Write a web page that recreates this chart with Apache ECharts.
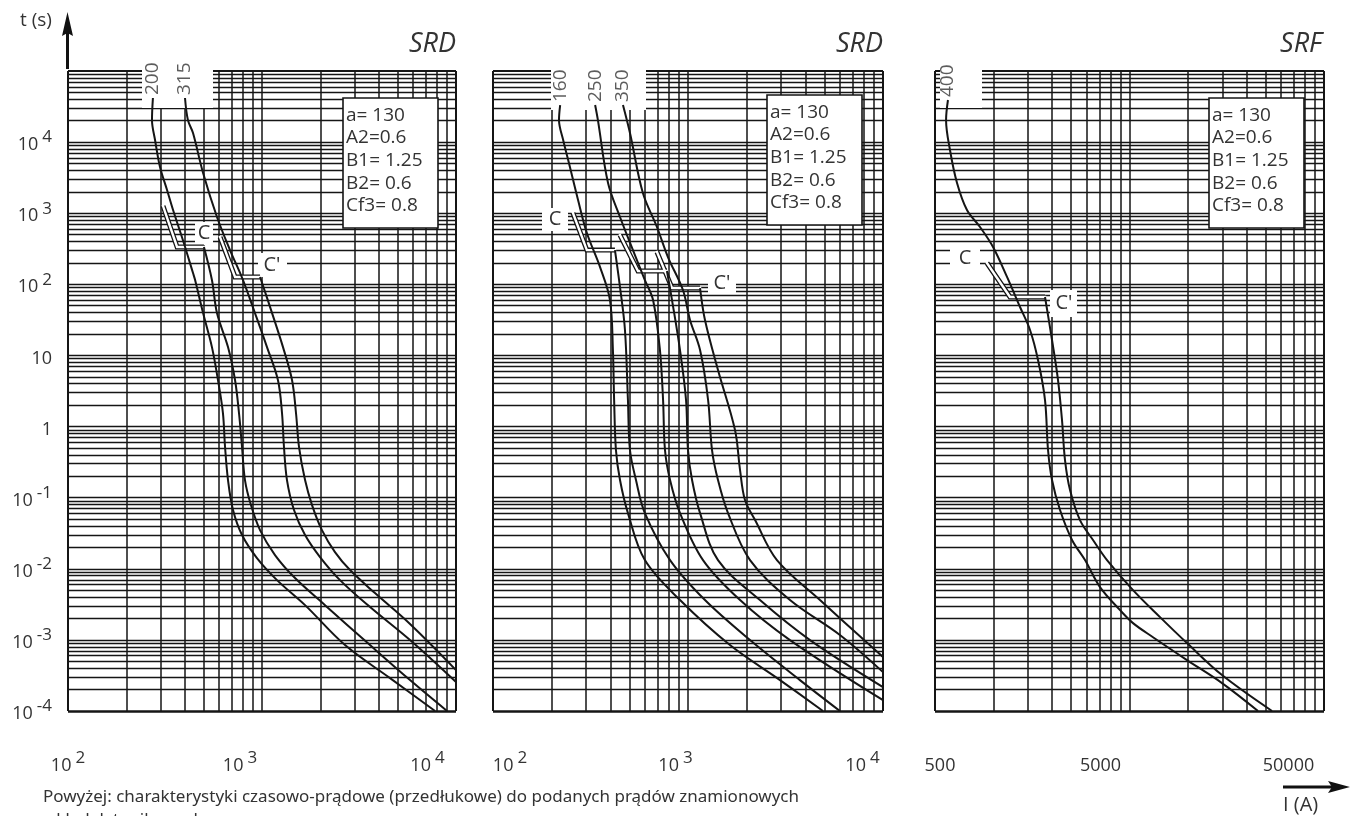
<!DOCTYPE html>
<html><head><meta charset="utf-8">
<script src="https://cdn.jsdelivr.net/npm/echarts@6.0.0/dist/echarts.min.js"></script>
<style>html,body{margin:0;padding:0;background:#fff}#c{width:1357px;height:816px}</style>
</head><body><div id="c"></div>
<script>
// ================= DATA =================
const panelTitles = ['SRD', 'SRD', 'SRF'];
const xTickValues = [[100, 1000, 10000], [100, 1000, 10000], [500, 5000, 50000]];
const yTickValues = [1e-4, 1e-3, 1e-2, 1e-1, 1, 10, 100, 1000, 10000];
const params = ['a= 130', 'A2=0.6', 'B1= 1.25', 'B2= 0.6', 'Cf3= 0.8'];
const calloutLabels = ['C', "C'"];
const captionLines = ['Powyżej: charakterystyki czasowo-prądowe (przedłukowe) do podanych prądów znamionowych', 'wkładek topikowych'];
const yAxisName = 't (s)';
const xAxisName = 'I (A)';

// Panel 1 (SRD): 200 A, 315 A  -- [I (A), t (s)]
const srd1Names = ['200', '315'];
const srd1_200_a = [[274,41700],[271,20500],[281,10700],[298,4470],[324,2120],[348,1109],[391,420],[441,144],[452,115],[497,39.4],[552,13.1],[593,4.51],[629,1.55],[645,0.515],[668,0.177],[709,0.0670],[789,0.0298],[942,0.01413],[1195,0.00693],[1667,0.00308],[2679,0.000845],[4571,0.00029],[7800,0.0001]];
const srd1_200_b = [[502,335],[552,115],[586,39.4],[668,13.1],[726,4.51],[761,1.55],[789,0.515],[817,0.177],[877,0.0787],[977,0.0350],[1167,0.0156],[1480,0.00740],[2113,0.00308],[3603,0.000845],[5794,0.000272],[8990,0.0001]];
const srd1_315_a = [[401,41700],[415,20500],[441,13400],[497,3670],[586,885],[684,303],[798,115],[920,39.4],[1061,13.1],[1208,4.51],[1268,1.55],[1298,0.515],[1345,0.177],[1462,0.0670],[1667,0.0298],[1991,0.01462],[2524,0.00693],[3606,0.00289],[5794,0.000993],[10000,0.000255]];
const srd1_315_b = [[977,127],[1127,39.4],[1283,13.1],[1428,4.51],[1497,1.55],[1552,0.515],[1667,0.177],[1811,0.0787],[2037,0.0350],[2378,0.01718],[2843,0.00959],[3822,0.00455],[5794,0.00167],[10000,0.000376]];
const srd1_callC = [[309,1262],[365,335],[502,335]];
const srd1_callC2 = [[608,462],[726,127],[977,127]];

// Panel 2 (SRD): 160 A, 250 A, 350 A
const srd2Names = ['160', '250', '350'];
const srd2_160_a = [[221,33200],[218,20500],[229,10700],[248,4470],[273,1535],[303,527],[354,175],[398,60.1],[412,11.9],[418,2.36],[427,0.468],[448,0.177],[492,0.0607],[601,0.01324],[910,0.00363],[1641,0.000845],[2964,0.000272],[4922,0.0001]];
const srd2_160_b = [[422,303],[448,91.6],[475,22.8],[492,2.36],[504,0.468],[541,0.177],[601,0.0607],[809,0.01324],[1222,0.00363],[2080,0.000993],[3750,0.000272],[6012,0.0001]];
const srd2_250_a = [[334,33200],[345,20500],[389,2660],[448,885],[522,303],[601,115],[662,60.1],[718,11.9],[745,2.36],[762,0.468],[809,0.177],[910,0.0607],[1194,0.01324],[1849,0.00363],[3334,0.000993],[10000,0.000142]];
const srd2_250_b = [[780,154],[828,60.1],[910,11.9],[977,2.36],[1000,0.468],[1049,0.177],[1153,0.0607],[1425,0.01324],[2339,0.00363],[4224,0.000993],[10000,0.000217]];
const srd2_350_a = [[464,33200],[504,13400],[587,1920],[693,640],[789,242],[942,83.2],[1024,31.5],[1153,11.9],[1268,2.36],[1328,0.468],[1425,0.177],[1604,0.0607],[2080,0.01324],[3334,0.00363],[6012,0.00117],[10000,0.000352]];
const srd2_350_b = [[1153,88.7],[1222,31.5],[1425,6.24],[1742,0.893],[1849,0.244],[1960,0.0925],[2208,0.0484],[2858,0.01324],[4752,0.00363],[10000,0.000573]];
const srd2_call160 = [[257,1007],[303,303],[422,303]];
const srd2_call250 = [[448,493],[554,154],[780,154]];
const srd2_call350 = [[693,285],[828,88.7],[1153,88.7]];

// Panel 3 (SRF): 400 A
const srfNames = ['400'];
const srf_400_a = [[583,39100],[570,20500],[597,7740],[649,2660],[730,1109],[852,640],[994,335],[1173,127],[1368,48.0],[1540,22.8],[1693,8.61],[1839,2.36],[1906,0.468],[1998,0.177],[2197,0.0670],[2532,0.0254],[2953,0.01324],[3526,0.00553],[4470,0.00262],[5212,0.00172],[6604,0.00109],[9876,0.000520],[14950,0.000247],[22890,0.0001]];
const srf_400_b = [[1839,66.3],[1998,16.5],[2145,4.51],[2249,1.23],[2330,0.338],[2473,0.128],[2782,0.0484],[3246,0.0254],[3831,0.01324],[5212,0.00501],[7175,0.00209],[9876,0.000902],[14950,0.000320],[27020,0.0001]];
const srf_call400 = [[925,199.5],[1215,66.3],[1839,66.3]];

// ================= LAYOUT / STYLE =================
const INK = '#151515';
const TXT = '#333333';
const FONT = "'Open Sans','Liberation Sans',sans-serif";
const gridBoxes = [
  {left: 68, top: 71, width: 388, height: 640},
  {left: 493, top: 71, width: 390, height: 640},
  {left: 935, top: 71, width: 389, height: 640}
];
const xRange = [[100, 10000], [100, 10000], [500, 50000]];
const yRange = [1e-4, 1e5];
// per-label [padLeft, padRight] to place x tick labels like the original
const xLabelPad = [
  [[0, 0], [0, 44], [0, 57]],
  [[34, 0], [0, 25], [0, 41]],
  [[10, 0], [0, 58], [0, 71]]
];

const panels = [
  {curves: [srd1_200_a, srd1_200_b, srd1_315_a, srd1_315_b], labelled: [srd1_200_a, srd1_315_a], names: srd1Names, callouts: [srd1_callC, srd1_callC2]},
  {curves: [srd2_160_a, srd2_160_b, srd2_250_a, srd2_250_b, srd2_350_a, srd2_350_b], labelled: [srd2_160_a, srd2_250_a, srd2_350_a], names: srd2Names, callouts: [srd2_call160, srd2_call250, srd2_call350]},
  {curves: [srf_400_a, srf_400_b], labelled: [srf_400_a], names: srfNames, callouts: [srf_call400]}
];

function logGridValues(base, decades) {
  const out = [];
  for (let d = 0; d < decades; d++) {
    const p = base * Math.pow(10, d);
    for (let k = 1; k <= 9; k++) out.push(+(k * p).toPrecision(6));
  }
  out.push(+(base * Math.pow(10, decades)).toPrecision(6));
  return out;
}
const yGrid = logGridValues(1e-4, 9);
const xGrids = [logGridValues(100, 2), logGridValues(100, 2), logGridValues(500, 2)];

const grid = [], xAxis = [], yAxis = [], series = [];

panels.forEach((p, i) => {
  grid.push(Object.assign({containLabel: false, outerBoundsMode: 'none'}, gridBoxes[i]));

  const rich = {};
  xLabelPad[i].forEach((pad, k) => {
    rich['b' + k] = {fontSize: 18, lineHeight: 32, color: TXT, fontFamily: FONT, padding: [0, i === 2 ? pad[1] : 0, 0, pad[0]]};
    rich['s' + k] = {fontSize: 17, lineHeight: 18, verticalAlign: 'top', color: TXT, fontFamily: FONT, padding: [0, pad[1], 0, 4]};
  });
  xAxis.push({
    type: 'log', gridIndex: i, min: xRange[i][0], max: xRange[i][1],
    axisLine: {show: false}, axisTick: {show: false}, splitLine: {show: false},
    minorTick: {show: false}, minorSplitLine: {show: false},
    axisLabel: {
      customValues: xTickValues[i], margin: 39, rich: rich, hideOverlap: false,
      formatter: function (v, idx) {
        let k = xTickValues[i].findIndex(t => Math.abs(t - v) / t < 1e-6);
        if (k < 0) k = idx;
        if (i === 2) return '{b' + k + '|' + Math.round(v) + '}';
        const e = Math.round(Math.log10(v));
        return '{b' + k + '|10}{s' + k + '|' + e + '}';
      }
    }
  });
  yAxis.push({
    type: 'log', gridIndex: i, min: yRange[0], max: yRange[1],
    axisLine: {show: false}, axisTick: {show: false}, splitLine: {show: false},
    minorTick: {show: false}, minorSplitLine: {show: false},
    axisLabel: i === 0 ? {
      customValues: yTickValues, margin: 16, align: 'right', padding: [6, 0, 0, 0], hideOverlap: false,
      rich: {
        b: {fontSize: 18, lineHeight: 32, color: TXT, fontFamily: FONT},
        s: {fontSize: 17, lineHeight: 18, verticalAlign: 'top', color: TXT, fontFamily: FONT, padding: [0, 0, 0, 4]}
      },
      formatter: function (v) {
        const e = Math.round(Math.log10(v));
        if (e === 0) return '{b|1}';
        if (e === 1) return '{b|10}';
        return '{b|10}{s|' + e + '}';
      }
    } : {show: false}
  });

  // grid lines
  const xs = xGrids[i], ys = yGrid;
  const ml = [];
  xs.forEach((v, k) => ml.push({xAxis: v, lineStyle: {width: (k === 0 || k === xs.length - 1) ? 2 : 1.5}}));
  ys.forEach((v, k) => ml.push({yAxis: v, lineStyle: {width: k === 0 ? 2.6 : (k === ys.length - 1 ? 1.8 : 1.4)}}));
  series.push({
    type: 'line', xAxisIndex: i, yAxisIndex: i, data: [], z: 1, silent: true,
    markLine: {silent: true, symbol: 'none', animation: false, precision: 12, z: 1, label: {show: false},
      emphasis: {disabled: true}, lineStyle: {color: INK, type: 'solid', width: 1.4}, data: ml}
  });

  // callouts (double line)
  p.callouts.forEach(c => {
    series.push({type: 'line', xAxisIndex: i, yAxisIndex: i, data: c, z: 4, silent: true, showSymbol: false,
      lineStyle: {color: INK, width: 5, cap: 'butt', join: 'miter'}});
    series.push({type: 'line', xAxisIndex: i, yAxisIndex: i, data: c, z: 5, silent: true, showSymbol: false,
      lineStyle: {color: '#ffffff', width: 2.4, cap: 'square', join: 'miter'}});
  });

  // curves
  p.curves.forEach(c => {
    series.push({type: 'line', xAxisIndex: i, yAxisIndex: i, data: c, z: 6, silent: true,
      showSymbol: false, smooth: 0.35, lineStyle: {color: INK, width: 2}});
  });

  // curve labels at the top of each curve
  series.push({
    type: 'scatter', xAxisIndex: i, yAxisIndex: i, z: 7, silent: true, symbolSize: 0.1,
    itemStyle: {color: 'rgba(0,0,0,0)'},
    data: p.names.map((n, k) => ({name: n, value: p.labelled[k][0]})),
    label: {show: true, formatter: '{b}', rotate: 90, position: 'inside', align: 'left', verticalAlign: 'middle',
      fontSize: 19, color: TXT, fontFamily: FONT, padding: [0, 0, 0, 3]}
  });
});

// ================= DECORATION =================
const g = [];
function rect(x, y, w, h, z, stroke) {
  g.push({type: 'rect', silent: true, z: z, shape: {x: x, y: y, width: w, height: h},
    style: stroke ? {fill: '#fff', stroke: INK, lineWidth: 1.6} : {fill: '#fff'}});
}
function text(t, x, y, font, align, valign, z, extra) {
  g.push({type: 'text', silent: true, z: z || 8, x: x, y: y,
    style: Object.assign({text: t, font: font, fill: TXT, align: align, textAlign: align,
      verticalAlign: valign, textVerticalAlign: valign}, extra || {})});
}
// masks behind curve labels
rect(142, 68, 71, 40, 3);
rect(551, 68, 95, 42, 3);
rect(940, 68, 42, 40, 3);
// C / C' label masks + texts
const cBoxes = [
  [195, 222, 18, 23, 204, 233, 0], [258, 253, 29, 24, 272, 265, 1],
  [542, 208, 26, 23, 555, 219, 0], [708, 272, 28, 22, 722, 283, 1],
  [950, 249, 30, 19, 965, 258, 0], [1050, 290, 27, 27, 1064, 303, 1]
];
cBoxes.forEach(b => { rect(b[0], b[1], b[2], b[3], 3); text(calloutLabels[b[6]], b[4], b[5], '20px ' + FONT, 'center', 'middle', 8); });
// parameter boxes
[[343, 98], [767, 95], [1209, 98]].forEach(p => {
  rect(p[0], p[1], 95, 130, 3, true);
  text(params.join('\n'), p[0] + 3, p[1] + 6, '19px ' + FONT, 'left', 'top', 8, {lineHeight: 22.6});
});
// titles
[[456, 'SRD'], [883, 'SRD'], [1322, 'SRF']].forEach((t, k) => text(panelTitles[k], t[0], 44, 'italic 27px ' + FONT, 'right', 'middle', 8));
// axis names and arrows
text(yAxisName, 20, 21, '19px ' + FONT, 'left', 'middle', 8);
g.push({type: 'line', silent: true, z: 8, shape: {x1: 67.5, y1: 69, x2: 67.5, y2: 30}, style: {stroke: '#111', lineWidth: 3}});
g.push({type: 'polygon', silent: true, z: 8, shape: {points: [[67.5, 12], [73, 36], [67.5, 33], [62, 36]]}, style: {fill: '#111'}});
g.push({type: 'line', silent: true, z: 8, shape: {x1: 1283, y1: 787, x2: 1335, y2: 787}, style: {stroke: '#111', lineWidth: 3}});
g.push({type: 'polygon', silent: true, z: 8, shape: {points: [[1350, 787], [1328, 781], [1332, 787], [1328, 793]]}, style: {fill: '#111'}});
text(xAxisName, 1283, 805, '20px ' + FONT, 'left', 'middle', 8);
// caption
text(captionLines[0], 43, 797, "17px 'Noto Sans',sans-serif", 'left', 'middle', 8);
text(captionLines[1], 43, 820, "17px 'Noto Sans',sans-serif", 'left', 'middle', 8);

const chart = echarts.init(document.getElementById('c'), null, {renderer: 'canvas'});
chart.setOption({
  animation: false,
  backgroundColor: '#fff',
  grid: grid, xAxis: xAxis, yAxis: yAxis, series: series,
  graphic: {elements: g}
});
</script>
</body></html>
